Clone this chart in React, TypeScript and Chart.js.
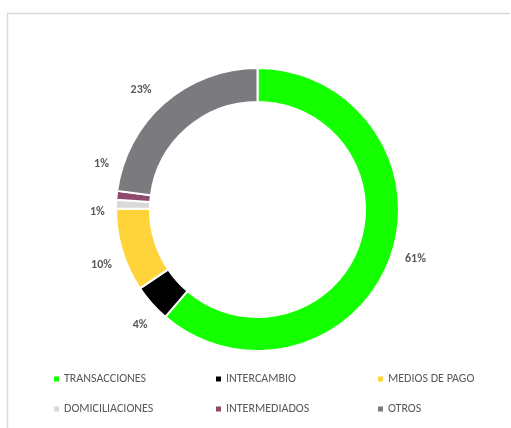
import React, { useEffect, useRef } from "react";
import { Chart, registerables } from "chart.js";

Chart.register(...registerables);

const categories = ["TRANSACCIONES", "INTERCAMBIO", "MEDIOS DE PAGO", "DOMICILIACIONES", "INTERMEDIADOS", "OTROS"];
const values = [61.3, 4.3, 9.5, 1, 1, 22.9];
const labelsText = ["61%", "4%", "10%", "1%", "1%", "23%"];
const colors = ["#14ff00", "#000000", "#ffd43b", "#d9d9d9", "#8e4a6c", "#7b7b7f"];

const FONT = "Carlito, Lato, 'Open Sans', sans-serif";

const framePlugin = {
  id: "frame",
  beforeDraw(chart: any) {
    const ctx = chart.ctx;
    ctx.save();
    ctx.fillStyle = "#ffffff";
    ctx.fillRect(0, 0, chart.width, chart.height);
    ctx.strokeStyle = "#d9d9d9";
    ctx.lineWidth = 1.5;
    ctx.beginPath();
    ctx.moveTo(7.5, chart.height);
    ctx.lineTo(7.5, 13.5);
    ctx.lineTo(chart.width - 1, 13.5);
    ctx.stroke();
    ctx.restore();
  },
};

const labelPlugin = {
  id: "outLabels",
  afterDatasetsDraw(chart: any) {
    const ctx = chart.ctx;
    const meta = chart.getDatasetMeta(0);
    ctx.save();
    ctx.font = "bold 12px " + FONT;
    ctx.fillStyle = "#595959";
    ctx.textAlign = "center";
    ctx.textBaseline = "middle";
    let prev = -999;
    meta.data.forEach((arc: any, i: number) => {
      const p = arc.getProps(["x", "y", "startAngle", "endAngle", "outerRadius"], true);
      let mid = (p.startAngle + p.endAngle) / 2 - (3 * Math.PI) / 180;
      const minSep = (17 * Math.PI) / 180;
      if (mid - prev < minSep) mid = prev + minSep;
      prev = mid;
      const w = ctx.measureText(labelsText[i]).width;
      const r = p.outerRadius + 11 + Math.abs(Math.cos(mid)) * w / 2 + Math.abs(Math.sin(mid)) * 10;
      const x = p.x + Math.cos(mid) * r;
      const y = p.y + Math.sin(mid) * r;
      ctx.fillText(labelsText[i], x, y);
    });
    ctx.restore();
  },
};

const legendPlugin = {
  id: "gridLegend",
  afterDraw(chart: any) {
    const ctx = chart.ctx;
    const colX = [54, 216, 378];
    const rowY = [379, 409];
    ctx.save();
    ctx.font = "12px " + FONT;
    ctx.textBaseline = "middle";
    ctx.textAlign = "left";
    categories.forEach((c, i) => {
      const x = colX[i % 3];
      const y = rowY[Math.floor(i / 3)];
      ctx.fillStyle = colors[i];
      ctx.fillRect(x, y - 2.5, 5, 5);
      ctx.fillStyle = "#595959";
      ctx.fillText(c, x + 10, y);
    });
    ctx.restore();
  },
};

export default function App() {
  const ref = useRef<HTMLCanvasElement>(null);
  useEffect(() => {
    if (!ref.current) return;
    const chart = new Chart(ref.current, {
      type: "doughnut",
      data: {
        labels: categories,
        datasets: [
          {
            data: values,
            backgroundColor: colors,
            borderColor: "#ffffff",
            borderWidth: 2,
          },
        ],
      },
      options: {
        animation: false,
        responsive: false,
        cutout: "76%",
        layout: { padding: { left: 115, right: 111, top: 67, bottom: 76 } },
        plugins: {
          legend: { display: false },
          tooltip: { enabled: false },
        },
      },
      plugins: [framePlugin, labelPlugin, legendPlugin],
    });
    return () => chart.destroy();
  }, []);
  return (
    <div style={{ position: "absolute", left: 0, top: 0, width: 511, height: 428 }}>
      <canvas ref={ref} width={511} height={428} style={{ width: 511, height: 428 }} />
    </div>
  );
}
